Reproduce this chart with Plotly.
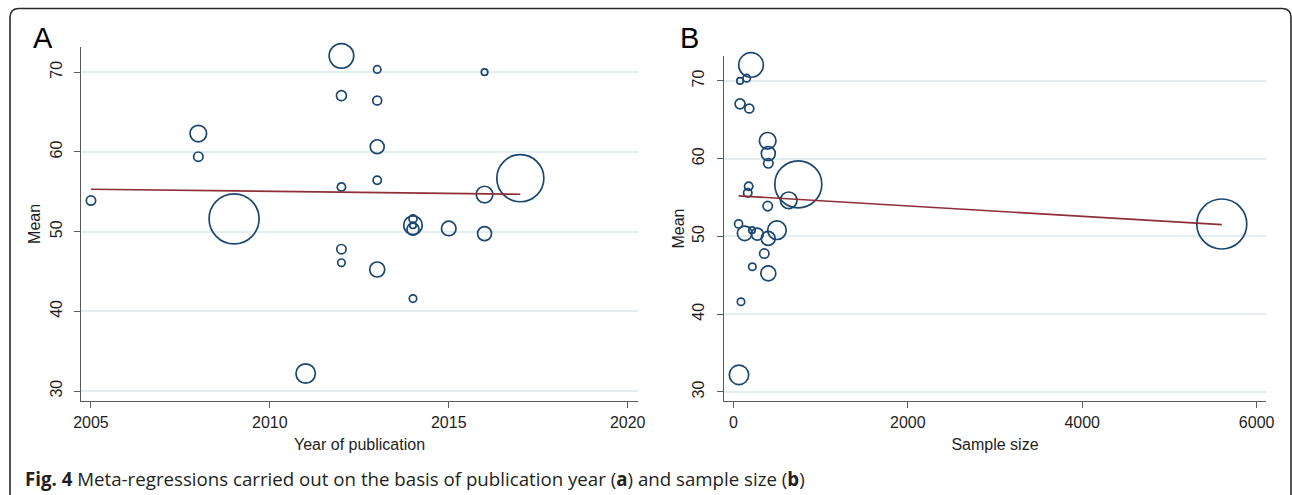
import math
import plotly.graph_objects as go

# ---------------- data (one entry per study) ----------------
year = [2005, 2008, 2008, 2009, 2011, 2012, 2012, 2012, 2012, 2012,
        2013, 2013, 2013, 2013, 2013, 2014, 2014, 2014, 2014, 2014,
        2015, 2016, 2016, 2016, 2017]
mean = [53.9, 62.3, 59.4, 51.6, 32.2, 72.05, 67.05, 55.6, 47.8, 46.1,
        70.35, 66.45, 60.65, 56.45, 45.25, 51.6, 50.8, 50.8, 50.3, 41.6,
        50.4, 70.0, 54.65, 49.75, 56.7]
sample_size = [394, 394, 401, 5600, 65, 203, 77, 165, 355, 218,
               153, 183, 401, 176, 401, 60, 500, 214, 275, 88,
               130, 77, 635, 400, 745]
weight = [3.5, 11.0, 3.5, 100, 15.1, 24.2, 4.0, 2.8, 3.5, 2.2,
          2.2, 3.2, 7.8, 2.8, 9.0, 2.6, 13.8, 1.7, 5.8, 2.2,
          8.5, 1.7, 11.0, 7.8, 88.4]

# fitted meta-regression lines: mean = intercept + slope * x
fit_year = {"intercept": 160.58, "slope": -0.0525}
fit_size = {"intercept": 55.25, "slope": -0.000667}

year_ticks = [2005, 2010, 2015, 2020]
size_ticks = [0, 2000, 4000, 6000]
mean_ticks = [30, 40, 50, 60, 70]

caption = ("<b>Fig. 4</b> Meta-regressions carried out on the basis of publication "
           "year (<b>a</b>) and sample size (<b>b</b>)")

# ---------------- styling ----------------
W, H = 1292, 495
NAVY = "#1a476f"
MAROON = "#8e2f37"
AXIS = "#5a5a5a"
GRID = "#e4eef1"
TXT = "#1e1e1e"
FONT = "Liberation Sans, Arial, sans-serif"

bubble = [5.0 * math.sqrt(w) for w in weight]

def px(x):
    return x / W

def py(y):
    return 1 - y / H

fig = go.Figure()

for xs, xa, ya in [(year, "x", "y"), (sample_size, "x2", "y2")]:
    fig.add_trace(go.Scatter(
        x=xs, y=mean, mode="markers", xaxis=xa, yaxis=ya, cliponaxis=False,
        marker=dict(symbol="circle-open", size=bubble, sizemode="diameter",
                    opacity=1, color=NAVY, line=dict(width=1.7, color=NAVY)),
        showlegend=False, hoverinfo="x+y"))

for xs, fit, xa, ya in [(year, fit_year, "x", "y"), (sample_size, fit_size, "x2", "y2")]:
    x0, x1 = min(xs), max(xs)
    fig.add_trace(go.Scatter(
        x=[x0, x1],
        y=[fit["intercept"] + fit["slope"] * x0, fit["intercept"] + fit["slope"] * x1],
        mode="lines", xaxis=xa, yaxis=ya, cliponaxis=False,
        line=dict(color=MAROON, width=1.6), showlegend=False, hoverinfo="skip"))

common_x = dict(showline=True, linecolor=AXIS, linewidth=1.3, ticks="outside",
                ticklen=6, tickwidth=1.3, tickcolor=AXIS, showgrid=False,
                zeroline=False, tickfont=dict(family=FONT, size=16, color=TXT),
                ticklabelstandoff=1, automargin=False)
common_y = dict(showline=True, linecolor=AXIS, linewidth=1.3, ticks="outside",
                ticklen=6, tickwidth=1.3, tickcolor=AXIS, showgrid=True,
                gridcolor=GRID, gridwidth=1.5, zeroline=False, tickangle=-90,
                tickfont=dict(family=FONT, size=16, color=TXT),
                tickvals=mean_ticks, ticklabelstandoff=6, automargin=False)

fig.update_layout(
    width=W, height=H, margin=dict(l=0, r=0, t=0, b=0, pad=0, autoexpand=False),
    paper_bgcolor="white", plot_bgcolor="white",
    xaxis=dict(common_x, domain=[px(81.3), px(637.7)], range=[2004.73, 2020.28],
               tickvals=year_ticks, anchor="y",
               title=dict(text="Year of publication", standoff=8,
                          font=dict(family=FONT, size=16, color=TXT))),
    yaxis=dict(common_y, domain=[py(401), py(46.7)], range=[28.75, 73.2], anchor="x",
               title=dict(text="Mean", standoff=3,
                          font=dict(family=FONT, size=16, color=TXT))),
    xaxis2=dict(common_x, domain=[px(724), px(1266)], range=[-107, 6107],
                tickvals=size_ticks, anchor="y2",
                title=dict(text="Sample size", standoff=8,
                           font=dict(family=FONT, size=16, color=TXT))),
    yaxis2=dict(common_y, domain=[py(401), py(56)], range=[28.84, 73.2], anchor="x2",
                title=dict(text="Mean", standoff=1,
                           font=dict(family=FONT, size=16, color=TXT))),
)

annotations = [
    dict(text="A", x=px(43), y=py(38), xref="paper", yref="paper",
         showarrow=False, xanchor="center", yanchor="middle",
         font=dict(family=FONT, size=29, color="black")),
    dict(text="B", x=px(689), y=py(38), xref="paper", yref="paper",
         showarrow=False, xanchor="center", yanchor="middle",
         font=dict(family=FONT, size=29, color="black")),
    dict(text=caption, x=px(23), y=py(478), xref="paper", yref="paper",
         showarrow=False, xanchor="left", yanchor="middle",
         font=dict(family="Open Sans, Noto Sans, sans-serif", size=18.7, color="#231f20")),
]
fig.update_layout(annotations=annotations)

# rounded frame around the figure (bottom edge runs off the page)
L, T, R, B, rad = 10, 8.5, 1291, 510, 9
path = (f"M {px(L)},{py(B)} L {px(L)},{py(T + rad)} "
        f"Q {px(L)},{py(T)} {px(L + rad)},{py(T)} "
        f"L {px(R - rad)},{py(T)} Q {px(R)},{py(T)} {px(R)},{py(T + rad)} "
        f"L {px(R)},{py(B)}")
fig.add_shape(type="path", path=path, xref="paper", yref="paper",
              line=dict(color="#2a2a2a", width=1.6), layer="above")

fig.write_html("out.html", config={"displayModeBar": False},
               post_script="document.body.style.margin='0';")
